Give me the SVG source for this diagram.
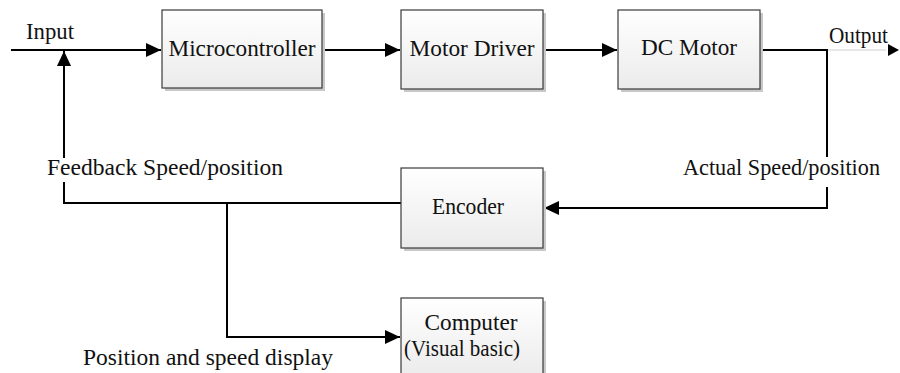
<svg xmlns="http://www.w3.org/2000/svg" width="900" height="373" viewBox="0 0 900 373">
<style>
.box{fill:url(#g);stroke:#3a3a3a;stroke-width:1.2}
.sh{fill:#c8c8c8}
.ln{fill:none;stroke:#000;stroke-width:2}
.t{font-family:"Times New Roman","Liberation Serif",Tinos,serif;font-size:23px;fill:#111}
.c{text-anchor:middle}
</style>
<defs>
<linearGradient id="g" x1="0" y1="0" x2="0" y2="1">
<stop offset="0" stop-color="#ffffff"/>
<stop offset="1" stop-color="#ebebeb"/>
</linearGradient>
<marker id="a" markerWidth="15" markerHeight="14" refX="15" refY="7" orient="auto" markerUnits="userSpaceOnUse">
<path d="M0,0 L15,7 L0,14 Z" fill="#000"/>
</marker>
</defs>
<rect width="900" height="373" fill="#fff"/>
<g id="connectors">
<path class="ln" d="M11,50 H161" marker-end="url(#a)"/>
<path class="ln" d="M322,50 H400" marker-end="url(#a)"/>
<path class="ln" d="M543,50 H617" marker-end="url(#a)"/>
<path class="ln" d="M760,50 H828"/>
<path d="M828,50 H886" stroke="#cfcfcf" stroke-width="1" fill="none"/>
<path d="M888,44 L899,50 L888,56 Z" fill="#000"/>
<path class="ln" d="M827,49 V157"/>
<path class="ln" d="M827,187 V208 H544" marker-end="url(#a)"/>
<path class="ln" d="M401,203 H64 V182"/>
<path class="ln" d="M64,158 V51" marker-end="url(#a)"/>
<path class="ln" d="M227,203 V337 H400" marker-end="url(#a)"/>
</g>
<g id="microcontroller">
<rect class="sh" x="165" y="13" width="160" height="78"/>
<rect class="box" x="162" y="10" width="160" height="78"/>
<text class="t c" x="242" y="56" textLength="147" lengthAdjust="spacingAndGlyphs">Microcontroller</text>
</g>
<g id="motor-driver">
<rect class="sh" x="404" y="13" width="142" height="79"/>
<rect class="box" x="401" y="10" width="142" height="79"/>
<text class="t c" x="472" y="56" textLength="125" lengthAdjust="spacingAndGlyphs">Motor Driver</text>
</g>
<g id="dc-motor">
<rect class="sh" x="621" y="13" width="142" height="79"/>
<rect class="box" x="618" y="10" width="142" height="79"/>
<text class="t c" x="689" y="55" textLength="96" lengthAdjust="spacingAndGlyphs">DC Motor</text>
</g>
<g id="encoder">
<rect class="sh" x="404" y="171" width="142" height="80"/>
<rect class="box" x="401" y="168" width="142" height="80"/>
<text class="t c" x="468" y="214" textLength="72" lengthAdjust="spacingAndGlyphs">Encoder</text>
</g>
<g id="computer">
<rect class="sh" x="404" y="301" width="142" height="80"/>
<rect class="box" x="401" y="298" width="142" height="80"/>
<text class="t c" x="471" y="330" textLength="93" lengthAdjust="spacingAndGlyphs">Computer</text>
<text class="t c" x="462" y="356" textLength="116" lengthAdjust="spacingAndGlyphs">(Visual basic)</text>
</g>
<g id="labels">
<text class="t" x="26" y="39" textLength="48" lengthAdjust="spacingAndGlyphs">Input</text>
<text class="t" x="829" y="43" textLength="59" lengthAdjust="spacingAndGlyphs">Output</text>
<text class="t" x="683" y="175" textLength="197" lengthAdjust="spacingAndGlyphs">Actual Speed/position</text>
<text class="t" x="47" y="175" textLength="236" lengthAdjust="spacingAndGlyphs">Feedback Speed/position</text>
<text class="t" x="83" y="365" textLength="250" lengthAdjust="spacingAndGlyphs">Position and speed display</text>
</g>
</svg>
